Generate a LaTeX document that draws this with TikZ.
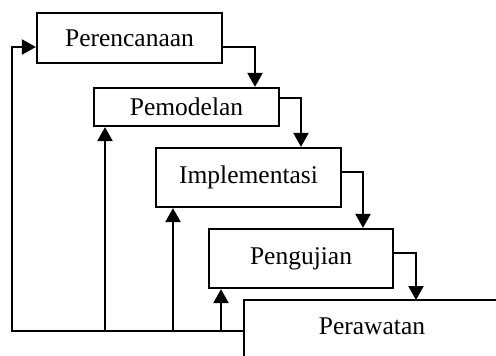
\documentclass[tikz,border=0pt]{standalone}
\usepackage{fontspec}
\setmainfont{Liberation Serif}
\usetikzlibrary{arrows.meta}
\begin{document}
\begin{tikzpicture}[x=1pt,y=-1pt,
  line width=2.2pt,
  stage/.style={draw,line width=2.2pt,minimum width=#1,minimum height=50pt,inner sep=0pt,
    font=\fontsize{25.5}{30}\selectfont},
  flow/.style={-{Triangle[width=15pt,length=14pt]},line join=miter}]
\useasboundingbox (0,0) rectangle (496,356);
\clip (0,0) rectangle (496,356);
\node[stage=185pt] (p1) at (129.5,38) {Perencanaan};
\node[stage=185pt,minimum height=38pt] (p2) at (186.5,107) {Pemodelan};
\node[stage=185pt,minimum height=59pt] (p3) at (248.5,177.5) {Implementasi};
\node[stage=184pt,minimum height=59pt] (p4) at (301,258.5) {Pengujian};
\draw (500,300) -- (244,300) -- (244,370);
\node[font=\fontsize{25.5}{30}\selectfont,inner sep=0pt] (p5) at (372,326) {Perawatan};
\coordinate (p5w) at (244,331);
% forward flow
\draw[flow] (p1.east |- 0,47) -| (p2.north -| 255,0);
\draw[flow] (p2.east |- 0,98) -| (p3.north -| 301,0);
\draw[flow] (p3.east |- 0,172) -| (p4.north -| 363,0);
\draw[flow] (p4.east |- 0,253) -| (416,300);
% feedback
\draw[flow] (p5w) -- (12,331) -- (12,47) -- (p1.west |- 0,47);
\draw[flow] (105,331) -- (p2.south -| 105,0);
\draw[flow] (173,331) -- (p3.south -| 173,0);
\draw[flow] (221,331) -- (p4.south -| 221,0);
\end{tikzpicture}
\end{document}
